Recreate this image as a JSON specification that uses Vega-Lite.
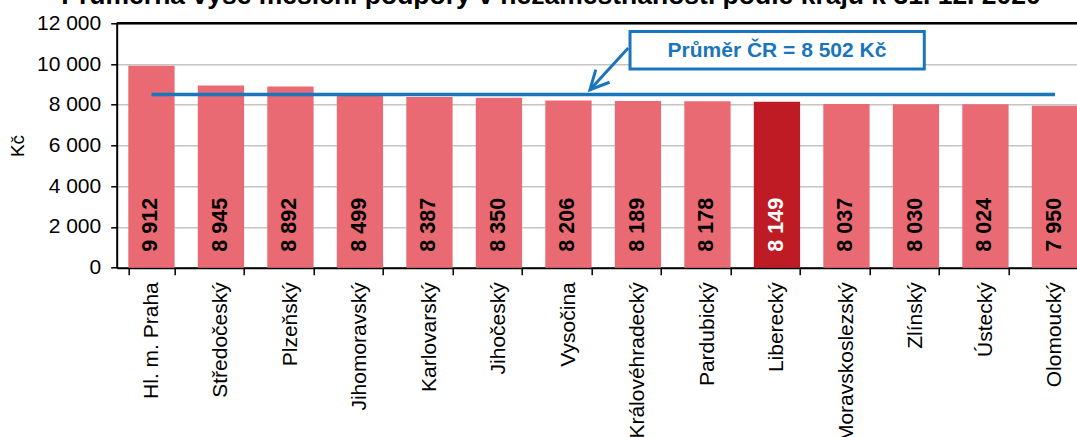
{
  "$schema": "https://vega.github.io/schema/vega-lite/v6.json",
  "autosize": {"type": "none"},
  "width": 960.3,
  "height": 244.4,
  "padding": {"left": 116.7, "top": 23.3, "right": 0, "bottom": 169.3},
  "background": "white",
  "config": {
    "view": {"stroke": null},
    "locale": {
      "number": {"decimal": ",", "thousands": " ", "grouping": [3], "currency": ["", " Kč"]}
    },
    "axis": {
      "labelFont": "Liberation Sans",
      "labelColor": "black",
      "titleFont": "Liberation Sans",
      "titleColor": "black",
      "titleFontWeight": "normal",
      "domainColor": "black",
      "domainWidth": 2,
      "tickColor": "black",
      "tickWidth": 1.5
    }
  },
  "datasets": {
    "kraje": [
      {"kraj": "Hl. m. Praha", "hodnota": 9912},
      {"kraj": "Středočeský", "hodnota": 8945},
      {"kraj": "Plzeňský", "hodnota": 8892},
      {"kraj": "Jihomoravský", "hodnota": 8499},
      {"kraj": "Karlovarský", "hodnota": 8387},
      {"kraj": "Jihočeský", "hodnota": 8350},
      {"kraj": "Vysočina", "hodnota": 8206},
      {"kraj": "Královéhradecký", "hodnota": 8189},
      {"kraj": "Pardubický", "hodnota": 8178},
      {"kraj": "Liberecký", "hodnota": 8149},
      {"kraj": "Moravskoslezský", "hodnota": 8037},
      {"kraj": "Zlínský", "hodnota": 8030},
      {"kraj": "Ústecký", "hodnota": 8024},
      {"kraj": "Olomoucký", "hodnota": 7950}
    ],
    "nadpis": [{"x": 6.25, "y": 12962, "text": "Průměrná výše měsíční podpory v nezaměstnanosti podle krajů k 31. 12. 2020"}],
    "prumer": [{"od": 0.5, "do": 13.5, "hodnota": 8502}],
    "box": [{"x1": 7.386, "x2": 11.62, "y1": 11602, "y2": 9756, "xt": 9.5, "yt": 10640, "popis": "Průměr ČR = 8 502 Kč"}],
    "sipka": [
      {"poradi": 1, "x": 7.36, "y": 10787},
      {"poradi": 2, "x": 6.81, "y": 8740}
    ]
  },
  "layer": [
    {
      "layer": [
        {
          "data": {"name": "kraje"},
          "mark": {"type": "bar"},
          "encoding": {
            "x": {
              "field": "kraj",
              "type": "nominal",
              "sort": null,
              "scale": {"range": [0, 973], "paddingInner": 0.334, "paddingOuter": 0.167},
              "axis": {
                "title": null,
                "labelAngle": 270,
                "labelFontSize": 21,
                "labelPadding": 7,
                "tickSize": 7,
                "tickBand": "extent",
                "labelOverlap": false,
                "labelLimit": 300,
                "grid": false
              }
            },
            "y": {
              "field": "hodnota",
              "type": "quantitative",
              "title": "Kč",
              "scale": {"domain": [0, 12000], "nice": false},
              "axis": {
                "titleFontSize": 19,
                "titlePadding": 9,
                "values": [0, 2000, 4000, 6000, 8000, 10000, 12000],
                "format": ",d",
                "labelFontSize": 21,
                "labelPadding": 10,
                "tickSize": 6,
                "grid": true,
                "gridColor": "#C4C4C4",
                "gridWidth": 1.5
              }
            },
            "color": {
              "condition": {"test": "datum.kraj === 'Liberecký'", "value": "#BE1B24"},
              "value": "#E96A73"
            }
          }
        },
        {
          "data": {"values": [{}]},
          "mark": {"type": "rule", "color": "black", "strokeWidth": 2.5},
          "encoding": {"y": {"datum": 12000, "type": "quantitative", "title": "Kč"}}
        },
        {
          "data": {"name": "kraje"},
          "mark": {
            "type": "text",
            "angle": 270,
            "align": "left",
            "baseline": "middle",
            "dx": 16,
            "font": "Liberation Sans",
            "fontSize": 21.5,
            "fontWeight": "bold"
          },
          "encoding": {
            "x": {"field": "kraj", "type": "nominal", "sort": null},
            "y": {"datum": 0, "type": "quantitative", "title": "Kč"},
            "text": {"field": "hodnota", "type": "quantitative", "format": ",d"},
            "color": {
              "condition": {"test": "datum.kraj === 'Liberecký'", "value": "white"},
              "value": "black"
            }
          }
        }
      ]
    },
    {
      "layer": [
        {
          "data": {"name": "nadpis"},
          "mark": {
            "type": "text",
            "align": "center",
            "baseline": "alphabetic",
            "font": "Liberation Sans",
            "fontSize": 26.5,
            "fontWeight": "bold",
            "color": "black"
          },
          "encoding": {
            "x": {"field": "x", "type": "quantitative", "scale": {"domain": [0, 14], "range": [0, 973], "nice": false, "zero": false}, "axis": null},
            "y": {"field": "y", "type": "quantitative", "title": "Kč"},
            "text": {"field": "text"}
          }
        },
        {
          "data": {"name": "prumer"},
          "mark": {"type": "rule", "color": "#1B75BC", "strokeWidth": 3.5},
          "encoding": {
            "x": {"field": "od", "type": "quantitative", "scale": {"domain": [0, 14], "range": [0, 973], "nice": false, "zero": false}, "axis": null},
            "x2": {"field": "do"},
            "y": {"field": "hodnota", "type": "quantitative", "title": "Kč"}
          }
        },
        {
          "data": {"name": "sipka"},
          "mark": {"type": "line", "color": "#1B75BC", "strokeWidth": 3},
          "encoding": {
            "x": {"field": "x", "type": "quantitative", "scale": {"domain": [0, 14], "range": [0, 973], "nice": false, "zero": false}, "axis": null},
            "y": {"field": "y", "type": "quantitative", "title": "Kč"},
            "order": {"field": "poradi"}
          }
        },
        {
          "data": {"name": "sipka"},
          "transform": [{"filter": "datum.poradi === 2"}],
          "mark": {
            "type": "point",
            "shape": "M -0.5 1 L 0 0 L 0.5 1",
            "angle": 222.6,
            "filled": false,
            "stroke": "#1B75BC",
            "strokeWidth": 3,
            "opacity": 1,
            "size": 1400
          },
          "encoding": {
            "x": {"field": "x", "type": "quantitative", "scale": {"domain": [0, 14], "range": [0, 973], "nice": false, "zero": false}, "axis": null},
            "y": {"field": "y", "type": "quantitative", "title": "Kč"}
          }
        },
        {
          "data": {"name": "box"},
          "mark": {"type": "rect", "fill": "white", "stroke": "#1B75BC", "strokeWidth": 3},
          "encoding": {
            "x": {"field": "x1", "type": "quantitative", "scale": {"domain": [0, 14], "range": [0, 973], "nice": false, "zero": false}, "axis": null},
            "x2": {"field": "x2"},
            "y": {"field": "y1", "type": "quantitative", "title": "Kč"},
            "y2": {"field": "y2"}
          }
        },
        {
          "data": {"name": "box"},
          "mark": {
            "type": "text",
            "align": "center",
            "baseline": "middle",
            "font": "Liberation Sans",
            "fontSize": 21,
            "fontWeight": "bold",
            "color": "#1B75BC"
          },
          "encoding": {
            "x": {"field": "xt", "type": "quantitative", "scale": {"domain": [0, 14], "range": [0, 973], "nice": false, "zero": false}, "axis": null},
            "y": {"field": "yt", "type": "quantitative", "title": "Kč"},
            "text": {"field": "popis"}
          }
        }
      ]
    }
  ],
  "resolve": {"scale": {"x": "independent"}}
}
